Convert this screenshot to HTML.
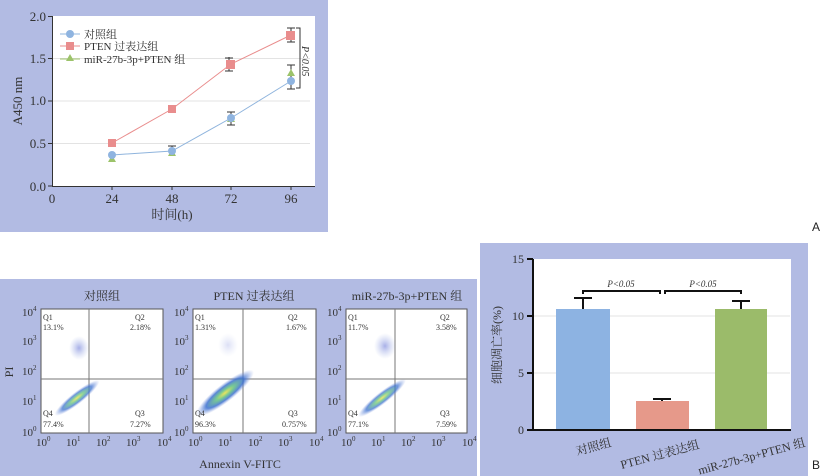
<!DOCTYPE html>
<html><head><meta charset="utf-8"><style>
body{margin:0;width:821px;height:476px;background:#fff;overflow:hidden}
svg{display:block;font-family:"Liberation Serif","Noto Serif CJK SC",serif}
</style></head><body>
<svg width="821" height="476" viewBox="0 0 821 476">
<rect x="0" y="0" width="328" height="232" fill="#b2bbe3"/>
<rect x="52" y="16" width="263" height="170" fill="#fff"/>
<g stroke="#e3e3e3" stroke-width="1">
<line x1="52" y1="143.5" x2="310" y2="143.5"/><line x1="52" y1="101" x2="310" y2="101"/><line x1="52" y1="58.5" x2="310" y2="58.5"/></g>
<g stroke="#333" stroke-width="1" fill="none">
<line x1="52.5" y1="16" x2="52.5" y2="186"/><line x1="52" y1="186.5" x2="315" y2="186.5"/>
<line x1="48" y1="16.5" x2="52" y2="16.5"/><line x1="48" y1="58.5" x2="52" y2="58.5"/><line x1="48" y1="101" x2="52" y2="101"/><line x1="48" y1="143.5" x2="52" y2="143.5"/><line x1="48" y1="186" x2="52" y2="186"/>
<line x1="112" y1="186" x2="112" y2="190"/><line x1="172" y1="186" x2="172" y2="190"/><line x1="231" y1="186" x2="231" y2="190"/><line x1="291" y1="186" x2="291" y2="190"/>
</g>
<g font-size="13" fill="#333" text-anchor="end">
<text x="46" y="21">2.0</text><text x="46" y="63">1.5</text><text x="46" y="105">1.0</text><text x="46" y="148">0.5</text><text x="46" y="191">0.0</text></g>
<g font-size="13" fill="#333" text-anchor="middle">
<text x="52" y="203">0</text><text x="112" y="203">24</text><text x="172" y="203">48</text><text x="231" y="203">72</text><text x="291" y="203">96</text>
<text x="172" y="219" font-size="13">时间(h)</text></g>
<text transform="translate(22,101) rotate(-90)" font-size="13" fill="#333" text-anchor="middle">A450 nm</text>
<g stroke="#333" stroke-width="1">
<line x1="172" y1="146" x2="172" y2="154"/><line x1="168" y1="146" x2="176" y2="146"/>
<line x1="231" y1="112" x2="231" y2="125"/><line x1="227" y1="112" x2="235" y2="112"/><line x1="227" y1="125" x2="235" y2="125"/>
<line x1="291" y1="28" x2="291" y2="42"/><line x1="287" y1="28" x2="295" y2="28"/><line x1="287" y1="42" x2="295" y2="42"/>
<line x1="229" y1="57" x2="229" y2="71"/><line x1="225" y1="58" x2="233" y2="58"/><line x1="225" y1="71" x2="233" y2="71"/>
<line x1="291" y1="65" x2="291" y2="89"/><line x1="287" y1="65" x2="295" y2="65"/><line x1="287" y1="89" x2="295" y2="89"/>
</g>
<polyline points="112,155 172,151 231,118 291,81" fill="none" stroke="#8fb4dd" stroke-width="1"/>
<polyline points="112,143 172,109 231,64 291,35" fill="none" stroke="#e98d8d" stroke-width="1"/>
<g fill="#9cc36a"><polygon points="112,155 108,162 116,162"/><polygon points="172,149 168,156 176,156"/><polygon points="231,115 227,122 235,122"/><polygon points="291,69 287,76 295,76"/></g>
<g fill="#8fb4e0"><circle cx="112" cy="155" r="4"/><circle cx="172" cy="151" r="4"/><circle cx="231" cy="118" r="4"/><circle cx="291" cy="81" r="4"/></g>
<g fill="#e98d8d"><rect x="108" y="139" width="8" height="8"/><rect x="168" y="105" width="8" height="8"/><rect x="226" y="60" width="9" height="9"/><rect x="286" y="31" width="9" height="9"/></g>
<polyline points="296,28 300,28 300,88 296,88" fill="none" stroke="#333"/>
<text transform="translate(302,46) rotate(90)" font-size="10" font-style="italic" fill="#333">P&lt;0.05</text>
<g font-size="11" fill="#333">
<line x1="60" y1="34" x2="80" y2="34" stroke="#8fb4dd"/><circle cx="70" cy="34" r="4" fill="#8fb4e0"/><text x="84" y="38">对照组</text>
<line x1="60" y1="46" x2="80" y2="46" stroke="#e98d8d"/><rect x="66" y="42" width="8" height="8" fill="#e98d8d"/><text x="84" y="50">PTEN 过表达组</text>
<line x1="60" y1="59" x2="80" y2="59" stroke="#9cc36a"/><polygon points="70,54 66,61 74,61" fill="#9cc36a"/><text x="84" y="63">miR-27b-3p+PTEN 组</text></g>
<text x="812" y="231" font-family="Liberation Sans,sans-serif" font-size="12" fill="#222">A</text>
<text x="812" y="469" font-family="Liberation Sans,sans-serif" font-size="12" fill="#222">B</text>

<rect x="0" y="279" width="477" height="197" fill="#b2bbe3"/>
<g font-size="12" fill="#333" text-anchor="middle">
<text x="102" y="300">对照组</text><text x="254" y="300">PTEN 过表达组</text><text x="407" y="300">miR-27b-3p+PTEN 组</text>
<text x="240" y="468">Annexin V-FITC</text></g>
<text transform="translate(13,372) rotate(-90)" font-size="12" fill="#333" text-anchor="middle">PI</text>
<defs>
<radialGradient id="g1"><stop offset="0" stop-color="#e8e040"/><stop offset="0.3" stop-color="#60c080"/><stop offset="0.65" stop-color="#3a6fd0"/><stop offset="1" stop-color="#8aa0e0" stop-opacity="0"/></radialGradient>
<radialGradient id="g2"><stop offset="0" stop-color="#5060d0" stop-opacity=".5"/><stop offset="1" stop-color="#8aa0e0" stop-opacity="0"/></radialGradient>
</defs>
<g font-size="8" fill="#333">
<rect x="41" y="309" width="122" height="124" fill="#fff" stroke="#555"/>
<line x1="89" y1="309" x2="89" y2="433" stroke="#777"/><line x1="41" y1="379" x2="163" y2="379" stroke="#777"/>
<ellipse cx="77" cy="398" rx="28" ry="6" fill="url(#g1)" opacity=".75" transform="rotate(-38 77 398)"/>
<ellipse cx="79" cy="348" rx="10" ry="12" fill="url(#g2)"/>
<text x="43" y="320">Q1</text><text x="43" y="330">13.1%</text><text x="135" y="320">Q2</text><text x="130" y="330">2.18%</text>
<text x="43" y="416">Q4</text><text x="43" y="427">77.4%</text><text x="135" y="416">Q3</text><text x="130" y="427">7.27%</text>
<rect x="193" y="309" width="123" height="124" fill="#fff" stroke="#555"/>
<line x1="243" y1="309" x2="243" y2="433" stroke="#777"/><line x1="193" y1="379" x2="316" y2="379" stroke="#777"/>
<ellipse cx="225" cy="393" rx="36" ry="9" fill="url(#g1)" opacity=".85" transform="rotate(-38 225 393)"/>
<ellipse cx="228" cy="345" rx="10" ry="12" fill="url(#g2)" opacity=".4"/>
<text x="195" y="320">Q1</text><text x="195" y="330">1.31%</text><text x="288" y="320">Q2</text><text x="286" y="330">1.67%</text>
<text x="195" y="416">Q4</text><text x="195" y="427">96.3%</text><text x="288" y="416">Q3</text><text x="282" y="427">0.757%</text>
<rect x="346" y="309" width="121" height="124" fill="#fff" stroke="#555"/>
<line x1="395" y1="309" x2="395" y2="433" stroke="#777"/><line x1="346" y1="379" x2="467" y2="379" stroke="#777"/>
<ellipse cx="382" cy="398" rx="30" ry="6" fill="url(#g1)" opacity=".75" transform="rotate(-38 382 398)"/>
<ellipse cx="385" cy="346" rx="11" ry="13" fill="url(#g2)"/>
<text x="348" y="320">Q1</text><text x="348" y="330">11.7%</text><text x="440" y="320">Q2</text><text x="436" y="330">3.58%</text>
<text x="348" y="416">Q4</text><text x="348" y="427">77.1%</text><text x="440" y="416">Q3</text><text x="436" y="427">7.59%</text>
</g>
<g font-size="11" fill="#333">
<g><text x="22" y="316">10<tspan font-size="7" dy="-5">4</tspan></text><text x="22" y="345">10<tspan font-size="7" dy="-5">3</tspan></text><text x="22" y="375">10<tspan font-size="7" dy="-5">2</tspan></text><text x="22" y="405">10<tspan font-size="7" dy="-5">1</tspan></text><text x="22" y="436">10<tspan font-size="7" dy="-5">0</tspan></text></g>
<g transform="translate(152,0)"><text x="22" y="316">10<tspan font-size="7" dy="-5">4</tspan></text><text x="22" y="345">10<tspan font-size="7" dy="-5">3</tspan></text><text x="22" y="375">10<tspan font-size="7" dy="-5">2</tspan></text><text x="22" y="405">10<tspan font-size="7" dy="-5">1</tspan></text><text x="22" y="436">10<tspan font-size="7" dy="-5">0</tspan></text></g>
<g transform="translate(305,0)"><text x="22" y="316">10<tspan font-size="7" dy="-5">4</tspan></text><text x="22" y="345">10<tspan font-size="7" dy="-5">3</tspan></text><text x="22" y="375">10<tspan font-size="7" dy="-5">2</tspan></text><text x="22" y="405">10<tspan font-size="7" dy="-5">1</tspan></text><text x="22" y="436">10<tspan font-size="7" dy="-5">0</tspan></text></g>
<g><text x="36" y="446">10<tspan font-size="7" dy="-5">0</tspan></text><text x="66" y="446">10<tspan font-size="7" dy="-5">1</tspan></text><text x="96" y="446">10<tspan font-size="7" dy="-5">2</tspan></text><text x="126" y="446">10<tspan font-size="7" dy="-5">3</tspan></text><text x="157" y="446">10<tspan font-size="7" dy="-5">4</tspan></text></g>
<g transform="translate(152,0)"><text x="36" y="446">10<tspan font-size="7" dy="-5">0</tspan></text><text x="66" y="446">10<tspan font-size="7" dy="-5">1</tspan></text><text x="96" y="446">10<tspan font-size="7" dy="-5">2</tspan></text><text x="126" y="446">10<tspan font-size="7" dy="-5">3</tspan></text><text x="157" y="446">10<tspan font-size="7" dy="-5">4</tspan></text></g>
<g transform="translate(305,0)"><text x="36" y="446">10<tspan font-size="7" dy="-5">0</tspan></text><text x="66" y="446">10<tspan font-size="7" dy="-5">1</tspan></text><text x="96" y="446">10<tspan font-size="7" dy="-5">2</tspan></text><text x="126" y="446">10<tspan font-size="7" dy="-5">3</tspan></text><text x="157" y="446">10<tspan font-size="7" dy="-5">4</tspan></text></g>
</g>

<rect x="480" y="243" width="328" height="233" fill="#b2bbe3"/>
<rect x="533" y="259" width="258" height="172" fill="#fff"/>
<g stroke="#e3e3e3"><line x1="533" y1="316" x2="790" y2="316"/><line x1="533" y1="373" x2="790" y2="373"/></g>
<rect x="556" y="309" width="54" height="121" fill="#8db3e2"/>
<rect x="636" y="401" width="53" height="29" fill="#e6998a"/>
<rect x="715" y="309" width="52" height="121" fill="#9bbb6a"/>
<g stroke="#111" stroke-width="2" fill="none">
<line x1="533" y1="259" x2="533" y2="431"/><line x1="532" y1="430" x2="791" y2="430"/>
<line x1="527" y1="259" x2="533" y2="259"/><line x1="527" y1="316" x2="533" y2="316"/><line x1="527" y1="373" x2="533" y2="373"/><line x1="527" y1="430" x2="533" y2="430"/>
<line x1="583" y1="298" x2="583" y2="309"/><line x1="574" y1="298" x2="592" y2="298"/>
<line x1="662" y1="399" x2="662" y2="401"/><line x1="653" y1="399" x2="671" y2="399"/>
<line x1="741" y1="301" x2="741" y2="309"/><line x1="732" y1="301" x2="750" y2="301"/>
<polyline points="583,294 583,291 660,291 660,294"/><polyline points="665,294 665,291 741,291 741,294"/>
</g>
<g font-size="12" fill="#333" text-anchor="end"><text x="524" y="263">15</text><text x="524" y="320">10</text><text x="524" y="377">5</text><text x="524" y="434">0</text></g>
<g font-size="9" font-style="italic" fill="#333" text-anchor="middle"><text x="621" y="287">P&lt;0.05</text><text x="703" y="287">P&lt;0.05</text></g>
<text transform="translate(501,345) rotate(-90)" font-size="12" fill="#333" text-anchor="middle">细胞凋亡率(%)</text>
<g font-size="12" fill="#333" text-anchor="end">
<text transform="translate(612,446) rotate(-15)">对照组</text>
<text transform="translate(700,448) rotate(-15)">PTEN 过表达组</text>
<text transform="translate(806,446) rotate(-15)">miR-27b-3p+PTEN 组</text></g>
</svg>
</body></html>
